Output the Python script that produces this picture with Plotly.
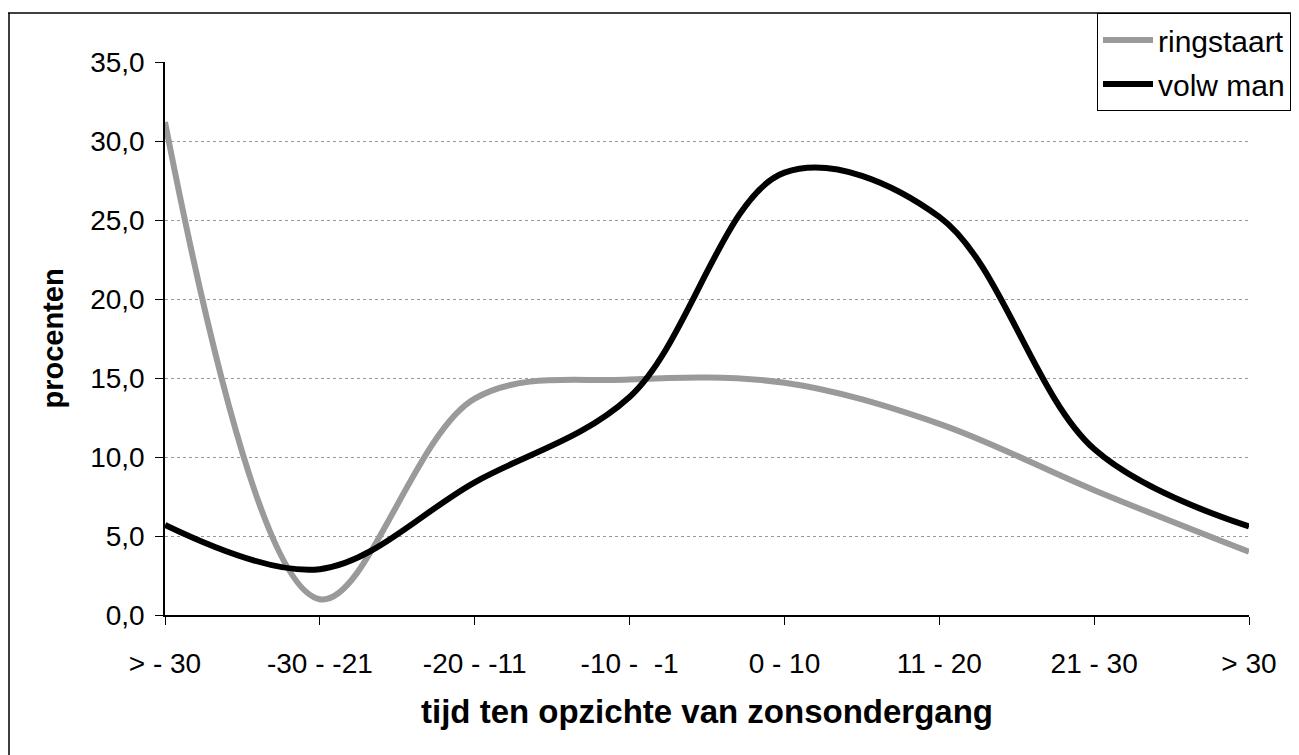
import plotly.graph_objects as go

categories = ["> - 30", "-30 - -21", "-20 - -11", "-10 -\u00a0\u00a0-1", "0 - 10", "11 - 20", "21 - 30", "> 30"]
ringstaart = [31.2, 1.0, 13.7, 14.9, 14.7, 12.1, 7.9, 4.0]
volw_man = [5.7, 2.9, 8.4, 13.8, 28.0, 25.2, 10.5, 5.6]

# page body has an 8px margin, so work in figure coords = reference coords - 8
OFF = 8
W, H = 1299 - OFF, 755 - OFF
L, R, T, B = 165 - OFF, 1249 - OFF, 62 - OFF, 615 - OFF
pw, ph = R - L, B - T


def px(x):
    return (x - OFF - L) / pw


def py(y):
    return (B - (y - OFF)) / ph


fig = go.Figure()
fig.add_trace(go.Scatter(
    x=categories, y=ringstaart, name="ringstaart", mode="lines",
    line=dict(color="#9a9a9a", width=6, shape="spline", smoothing=1.0),
    legendgroup="a",
))
fig.add_trace(go.Scatter(
    x=categories, y=volw_man, name="volw man", mode="lines",
    line=dict(color="#000000", width=6, shape="spline", smoothing=1.0),
    legendgroup="b",
))

font_family = "Liberation Sans, Arial, sans-serif"

fig.update_layout(
    width=W, height=H,
    margin=dict(l=L, r=W - R, t=T, b=H - B, autoexpand=False),
    paper_bgcolor="white", plot_bgcolor="white",
    separators=", ",
    font=dict(family=font_family, color="black", size=28),
    showlegend=True,
    legend=dict(
        x=px(1097), y=py(13), xanchor="left", yanchor="top",
        bordercolor="black", borderwidth=1, bgcolor="white",
        font=dict(size=30, color="black"),
        traceorder="grouped", tracegroupgap=2,
        itemwidth=50,
    ),
    xaxis=dict(
        type="category", range=[0, len(categories) - 1],
        showline=True, linecolor="black", linewidth=1.5,
        ticks="outside", ticklen=8, tickcolor="black",
        showgrid=False, zeroline=False,
        tickfont=dict(size=28),
        ticklabelstandoff=15,
        title=dict(text="<b>tijd ten opzichte van zonsondergang</b>", font=dict(size=33), standoff=22),
    ),
    yaxis=dict(
        range=[0, 35], dtick=5, tickformat=".1f",
        showline=True, linecolor="black", linewidth=1.5,
        ticks="outside", ticklen=8, tickcolor="black",
        showgrid=True, gridcolor="#999999", griddash="dot", gridwidth=1,
        zeroline=False,
        tickfont=dict(size=28),
        ticklabelstandoff=5,
        title=dict(text="<b>procenten</b>", font=dict(size=29), standoff=18),
    ),
    shapes=[
        dict(type="line", xref="paper", yref="paper",
             x0=px(8), x1=px(1299 + 20), y0=py(13), y1=py(13),
             line=dict(color="black", width=1.5)),
        dict(type="line", xref="paper", yref="paper",
             x0=px(9), x1=px(9), y0=py(13), y1=py(755 + 20),
             line=dict(color="black", width=1.5)),
    ],
)

fig.write_html("out.html")
